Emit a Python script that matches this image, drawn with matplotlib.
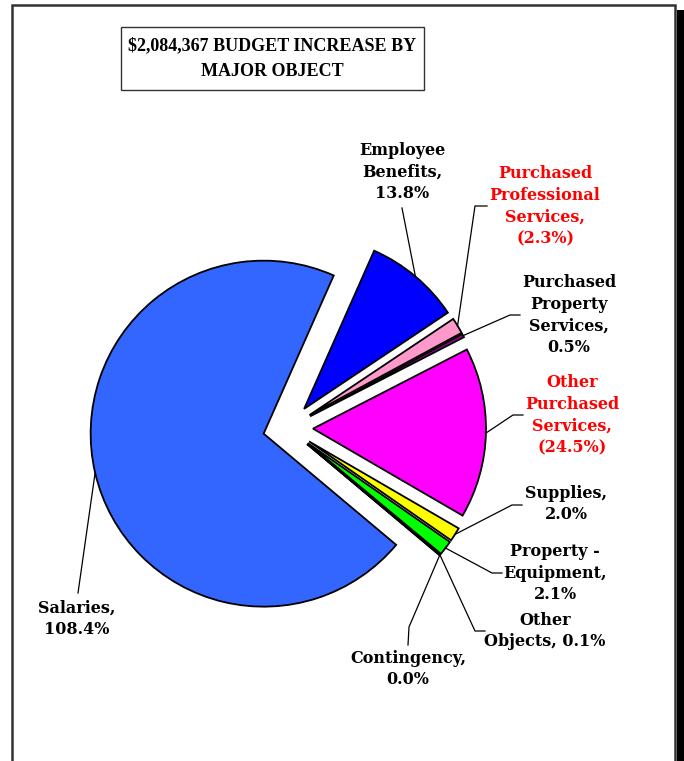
import matplotlib
matplotlib.use("Agg")
import matplotlib.pyplot as plt
from matplotlib.patches import Rectangle
import numpy as np

# ---- data ----
categories = ["Salaries", "Employee Benefits", "Purchased Professional Services",
              "Purchased Property Services", "Other Purchased Services", "Supplies",
              "Property - Equipment", "Other Objects", "Contingency"]
percent = [108.4, 13.8, -2.3, 0.5, -24.5, 2.0, 2.1, 0.1, 0.0]
label_text = ["Salaries,\n108.4%", "Employee\nBenefits,\n13.8%",
              "Purchased\nProfessional\nServices,\n(2.3%)",
              "Purchased\nProperty\nServices,\n0.5%",
              "Other\nPurchased\nServices,\n(24.5%)",
              "Supplies,\n2.0%", "Property -\nEquipment,\n2.1%",
              "Other\nObjects, 0.1%", "Contingency,\n0.0%"]
title = "$2,084,367 BUDGET INCREASE BY\nMAJOR OBJECT"

# ---- styles / layout ----
colors = ["#3366FF", "#0000FF", "#FF99CC", "#990099", "#FF00FF",
          "#FFFF00", "#00FF00", "#A0A0A0", "#FFFFFF"]
W, H = 684, 761
FONT = "DejaVu Serif"
# label centres (image px) and leader elbow points (image px)
label_pos = [(77, 619), (402, 172), (545, 206), (569, 315), (572, 415),
             (566, 504), (555, 573), (545, 631), (408, 669)]
elbows = [[(78, 593)], [(402, 208)], [(475, 206), (487, 206)],
          [(510, 315), (520, 315)], [(513, 415), (523, 415)],
          [(512, 505), (522, 505)], [(492, 573), (502, 573)],
          [(475, 631), (485, 631)], [(409, 627), (408, 645)]]

fig = plt.figure(figsize=(W / 100, H / 100), dpi=100)
ax = fig.add_axes([0, 0, 1, 1])

def fy(y):
    return H - y

sizes = [abs(v) for v in percent]
R = 173
wedges, _ = ax.pie(sizes, colors=colors, radius=R, center=(288, fy(428)),
                   startangle=-40, counterclock=False,
                   explode=[25] * len(sizes), frame=True,
                   wedgeprops=dict(edgecolor="black", linewidth=1.3))
ax.set_xlim(0, W)
ax.set_ylim(0, H)
ax.set_aspect("equal")
ax.axis("off")

for i, w in enumerate(wedges):
    mid = np.deg2rad((w.theta1 + w.theta2) / 2)
    cx, cy = w.center
    start = (cx + R * np.cos(mid), cy + R * np.sin(mid))
    pts = [start] + [(x, fy(y)) for x, y in elbows[i]]
    xs, ys = zip(*pts)
    ax.plot(xs, ys, color="black", lw=0.9, zorder=3)
    col = "#FF0000" if percent[i] < 0 else "black"
    lx, ly = label_pos[i]
    ax.text(lx, fy(ly), label_text[i], ha="center", va="center", color=col,
            fontsize=11.5, fontweight="bold", family=FONT, linespacing=1.36)

# title with box
ax.add_patch(Rectangle((121, fy(90)), 303, 63, facecolor="white",
                       edgecolor="#333333", lw=1.0, zorder=4))
ax.text(272, fy(58.5), title, ha="center", va="center", fontsize=13.0,
        fontweight="bold", family="Liberation Serif", linespacing=1.72, zorder=5)

# outer frame with shadow
ax.plot([12, 12, 675, 675], [0, fy(5), fy(5), 0], color="#333333", lw=1.8,
        solid_joinstyle="miter", zorder=6)
ax.add_patch(Rectangle((677, 0), 7, fy(10), facecolor="black",
                       edgecolor="none", zorder=6))

fig.savefig("out.png", dpi=100)
